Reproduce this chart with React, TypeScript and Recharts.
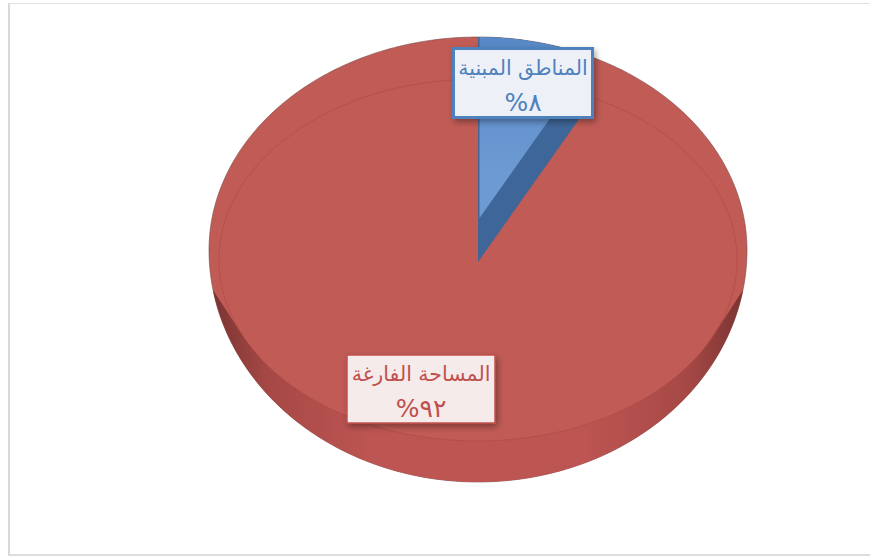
import React from "react";
import { PieChart, Pie } from "recharts";

// Land use shares, in percent
const landCategories = ["المساحة الفارغة", "المناطق المبنية"];
const landValues = [92, 8];
const percentLabels = ["٩٢%", "٨%"];
const sliceColors = ["#c15b56", "#3f6698"];

const total = landValues.reduce((a, b) => a + b, 0);
// The smaller slice sits right after 12 o'clock, running clockwise
const firstAngle = 90 - (landValues[1] / total) * 360;

const rows = landCategories.map((name, i) => ({
  name,
  value: landValues[i],
  pct: percentLabels[i],
}));

// Tilted-disc projection
const DISC_CENTER_Y = 250;
const RADIUS_UP = 213;
const RADIUS_DOWN = 232;
const RIM_RATIO_X = 259 / 269;
const RIM_RY = 181;
const RIM_CY = 260;
const BAND_TOP = 290;
const BAND_JOIN_ANGLE = 24.5;
const WEDGE_RY = 209;
const LIFT = 44;

const rad = (d: number) => (d * Math.PI) / 180;
const outerPt = (cx: number, r: number, t: number): [number, number] => {
  const s = Math.sin(rad(t));
  return [cx + r * Math.cos(rad(t)), DISC_CENTER_Y - (s >= 0 ? RADIUS_UP : RADIUS_DOWN) * s];
};
const rimPt = (cx: number, r: number, t: number): [number, number] => [
  cx + r * RIM_RATIO_X * Math.cos(rad(t)),
  RIM_CY - RIM_RY * Math.sin(rad(t)),
];
const sweep = (fn: (t: number) => [number, number], from: number, to: number) => {
  const n = Math.max(2, Math.ceil(Math.abs(to - from)));
  const pts: [number, number][] = [];
  for (let i = 0; i <= n; i++) pts.push(fn(from + ((to - from) * i) / n));
  return pts;
};
const toPath = (pts: [number, number][], close = true) =>
  pts.map((p, i) => `${i ? "L" : "M"}${p[0].toFixed(2)} ${p[1].toFixed(2)}`).join(" ") + (close ? " Z" : "");

function DiscSlice(props: any) {
  const { cx, cy, outerRadius: r, startAngle, endAngle, index } = props;
  const outer = (t: number) => outerPt(cx, r, t);
  const discPath = toPath(sweep(outer, 0, 360));

  if (index === 0) {
    const a1 = 180 + (Math.asin((BAND_TOP - DISC_CENTER_Y) / RADIUS_DOWN) * 180) / Math.PI;
    const a2 = 540 - a1;
    const band = toPath([
      ...sweep(outer, a1, a2),
      ...sweep((t) => rimPt(cx, r, t), 360 - BAND_JOIN_ANGLE, 180 + BAND_JOIN_ANGLE),
    ]);
    return (
      <g>
        <path d={discPath} fill={props.fill} stroke="#7a4a48" strokeWidth={0.6} />
        <path d={band} fill="url(#bandShade)" />
        <path
          d={toPath(sweep((t) => rimPt(cx, r, t), 0, 360))}
          fill="none"
          stroke="#ab4643"
          strokeOpacity={0.7}
          strokeWidth={0.8}
        />
      </g>
    );
  }

  // Wedge rays run past the disc edge; the outline clip trims them
  const ray = (t: number): [number, number] => [
    cx + 1.6 * r * Math.cos(rad(t)),
    cy - 1.6 * WEDGE_RY * Math.sin(rad(t)),
  ];
  const wedge = toPath([[cx, cy], ...sweep(ray, startAngle, endAngle)]);
  return (
    <g clipPath="url(#wedgeLimit)">
      <g clipPath="url(#discOutline)">
        <path d={wedge} fill={props.fill} />
        <path d={wedge} fill="url(#wedgeFace)" transform={`translate(1.5 ${-LIFT})`} />
      </g>
      <defs>
        <clipPath id="discOutline">
          <path d={discPath} />
        </clipPath>
      </defs>
    </g>
  );
}

// Boxed callouts, one for each slice
const callouts = [
  { cx: 421, cy: 389, w: 148, h: 68, fill: "#f5ebeb", border: "#c0504d", bw: 1.5, text: "#c0504d" },
  { cx: 523, cy: 83, w: 139, h: 69, fill: "#edf1f7", border: "#4f81bd", bw: 3, text: "#4f81bd" },
];

function Callout(props: any) {
  const c = callouts[props.index];
  const row = rows[props.index];
  return (
    <g>
      <rect
        x={c.cx - c.w / 2}
        y={c.cy - c.h / 2}
        width={c.w}
        height={c.h}
        fill={c.fill}
        stroke={c.border}
        strokeWidth={c.bw}
        filter="url(#boxShadow)"
      />
      <text
        x={c.cx}
        y={c.cy - 8}
        textAnchor="middle"
        direction="rtl"
        fontFamily="'DejaVu Sans', sans-serif"
        fontSize={20.5}
        fill={c.text}
      >
        {row.name}
      </text>
      <text
        x={c.cx}
        y={c.cy + 28}
        textAnchor="middle"
        direction="rtl"
        fontFamily="'DejaVu Sans', sans-serif"
        fontSize={25}
        fill={c.text}
      >
        {row.pct}
      </text>
    </g>
  );
}

export default function App() {
  return (
    <div style={{ position: "absolute", left: 0, top: 0, width: 870, height: 558, background: "#fff", overflow: "hidden" }}>
      <div
        style={{
          position: "absolute",
          left: 8,
          top: 3,
          width: 862,
          height: 553,
          boxSizing: "border-box",
          borderLeft: "2px solid #d9d9d9",
          borderTop: "1px solid #e2e2e2",
          borderBottom: "2px solid #dedede",
        }}
      />
      <div style={{ position: "absolute", left: 0, top: 0 }}>
        <PieChart width={870} height={558} margin={{ top: 0, right: 0, bottom: 0, left: 0 }}>
          <defs>
            <linearGradient id="bandShade" x1="0" y1="0" x2="1" y2="0">
              <stop offset="0" stopColor="#7a3432" />
              <stop offset="0.1" stopColor="#a54845" />
              <stop offset="0.3" stopColor="#bd5552" />
              <stop offset="0.7" stopColor="#bd5552" />
              <stop offset="0.9" stopColor="#a54845" />
              <stop offset="1" stopColor="#7a3432" />
            </linearGradient>
            <linearGradient id="wedgeFace" gradientUnits="userSpaceOnUse" x1="0" y1="40" x2="0" y2="218">
              <stop offset="0" stopColor="#5284c2" />
              <stop offset="1" stopColor="#6c9ad3" />
            </linearGradient>
            <clipPath id="wedgeLimit">
              <rect x={0} y={0} width={591} height={558} />
            </clipPath>
            <filter id="boxShadow" x="-15%" y="-25%" width="130%" height="150%">
              <feDropShadow dx={2} dy={3} stdDeviation={3} floodColor="#000" floodOpacity={0.35} />
            </filter>
          </defs>
          <Pie
            data={rows.map((r, i) => ({ ...r, fill: sliceColors[i] }))}
            dataKey="value"
            nameKey="name"
            cx={478}
            cy={262}
            outerRadius={269}
            startAngle={firstAngle}
            endAngle={firstAngle - 360}
            stroke="none"
            shape={DiscSlice}
            label={Callout}
            labelLine={false}
            isAnimationActive={false}
          />
        </PieChart>
      </div>
    </div>
  );
}
